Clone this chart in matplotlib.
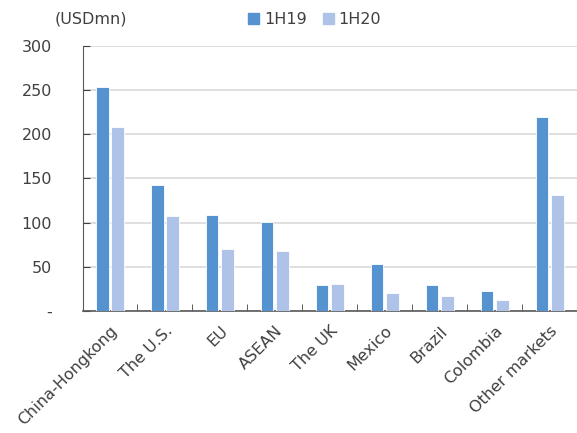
import numpy as np
import matplotlib.pyplot as plt
from matplotlib.patches import Patch

markets = ['China-Hongkong', 'The U.S.', 'EU', 'ASEAN', 'The UK',
           'Mexico', 'Brazil', 'Colombia', 'Other markets']
h1_2019 = [254, 142, 109, 101, 29, 53, 29, 22, 220]
h1_2020 = [208, 107, 70, 68, 31, 20, 17, 12, 131]
yticks = [0, 50, 100, 150, 200, 250, 300]
ytick_labels = ['-', '50', '100', '150', '200', '250', '300']

c19 = '#5592d0'
c20 = '#aec3e7'
txt = '#404040'

fig = plt.figure(figsize=(5.77, 4.33), dpi=100)
ax = fig.add_axes([0.143, 0.282, 0.857, 0.612])

x = np.arange(len(markets))
w = 0.23
ax.bar(x - 0.14, h1_2019, w, color=c19, edgecolor='white', linewidth=0.6, zorder=3)
ax.bar(x + 0.14, h1_2020, w, color=c20, edgecolor='white', linewidth=0.6, zorder=3)

ax.set_xlim(-0.5, len(markets) - 0.5)
ax.set_ylim(0, 300)
ax.set_yticks(yticks)
ax.set_yticklabels(ytick_labels, fontsize=11.5, color=txt)
ax.yaxis.grid(True, color='#d9d9d9', linewidth=1.2, zorder=0)

ax.set_xticks(x)
ax.set_xticklabels(markets, rotation=45, ha='right', rotation_mode='anchor',
                   fontsize=11.5, color=txt)
ax.tick_params(axis='x', length=0, pad=9)
ax.set_xticks(np.arange(len(markets)) + 0.5, minor=True)
ax.tick_params(axis='x', which='minor', length=5, direction='in', color='#404040')
ax.tick_params(axis='y', length=5, direction='in', color='#404040', pad=22)

for s in ['top', 'right']:
    ax.spines[s].set_visible(False)
ax.spines['left'].set_color('#595959')
ax.spines['bottom'].set_color('#595959')
ax.spines['bottom'].set_linewidth(1.2)

fig.text(0.095, 0.955, '(USDmn)', fontsize=11.5, color=txt, va='center')
handles = [Patch(color=c19, label='1H19'), Patch(color=c20, label='1H20')]
fig.legend(handles=handles, loc='center', bbox_to_anchor=(0.545, 0.955), ncol=2,
           frameon=False, fontsize=11.5, handlelength=0.7, handleheight=0.7,
           handletextpad=0.3, columnspacing=1.0, labelcolor=txt)

fig.savefig('out.png')
